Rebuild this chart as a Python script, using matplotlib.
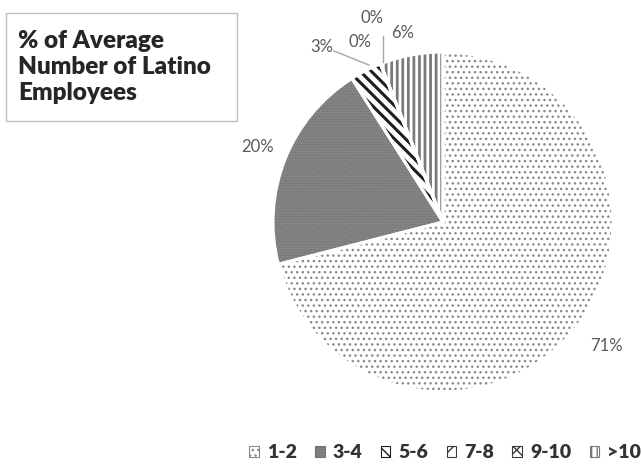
import matplotlib.pyplot as plt
from matplotlib.patches import Wedge, Rectangle, Patch

plt.rcParams['font.family'] = ['Lato', 'DejaVu Sans']

groups = ['1-2', '3-4', '5-6', '7-8', '9-10', '>10']
shares = [71, 20, 3, 0, 0, 6]

fills = ['white', '#858585', 'white', 'white', 'white', 'white']
hatch_colors = ['#8a8a8a', '#727272', '#1e1e1e', '#3a3a3a', '#3a3a3a', '#7a7a7a']
hatches = ['...', '......', '\\\\\\', '//', 'xx', '|||']
hatch_widths = [1.0, 0.7, 2.2, 2.0, 1.5, 2.0]

W, H = 642, 466
fig = plt.figure(figsize=(W / 100, H / 100), dpi=100)
ax = fig.add_axes([0, 0, 1, 1])


def hatched(patch_cls, *args, hlw=1.0, **kw):
    with plt.rc_context({'hatch.linewidth': hlw}):
        p = patch_cls(*args, **kw)
    if hasattr(p, 'set_hatch_linewidth'):
        p.set_hatch_linewidth(hlw)
    return p


cx, cy, r = 443, H - 222, 170
wedges, _ = ax.pie(shares, startangle=90, counterclock=False,
                   center=(cx, cy), radius=r, colors=fills,
                   wedgeprops=dict(linewidth=0))

# hatch layer on top of the fills, then white separators
for w, hc, h, hw in zip(wedges, hatch_colors, hatches, hatch_widths):
    ax.add_patch(hatched(Wedge, w.center, w.r, w.theta1, w.theta2, hlw=hw,
                         facecolor='none', edgecolor=hc, linewidth=0,
                         hatch=h, zorder=2))
    ax.add_patch(Wedge(w.center, w.r, w.theta1, w.theta2, facecolor='none',
                       edgecolor='white', linewidth=2.2, zorder=3))

# percentage labels
lab_pos = [(606, 346), (257, 147), (322, 47), (360, 42), (372, 18), (403, 33)]
for v, (x, y) in zip(shares, lab_pos):
    ax.text(x, H - y, f'{v:.0f}%', ha='center', va='center',
            fontsize=12, color='#595959')

# leader lines for the thin slices
ax.plot([334, 369], [H - 51, H - 65], color='#a6a6a6', lw=1, zorder=4)
ax.plot([383, 383], [H - 36, H - 62], color='#a6a6a6', lw=1, zorder=4)

ax.set_xlim(0, W)
ax.set_ylim(0, H)
ax.set_aspect('auto')
ax.axis('off')

# title box
ax.add_patch(Rectangle((6, H - 121), 231, 108, facecolor='white',
                       edgecolor='#bfbfbf', linewidth=1))
ax.text(18, H - 67, '% of Average\nNumber of Latino\nEmployees',
        ha='left', va='center', fontsize=17.5, fontweight='heavy',
        color='#262626', linespacing=1.2)

handles = [hatched(Patch, hlw=hw, facecolor=f, edgecolor=hc, hatch=h,
                   linewidth=0.8)
           for f, hc, h, hw in zip(fills, hatch_colors, hatches, hatch_widths)]
leg = fig.legend(handles, groups, loc='center', bbox_to_anchor=(445 / W, 13 / H),
                 ncol=6, frameon=False, handlelength=0.5, handleheight=0.5,
                 handletextpad=0.4, columnspacing=0.95,
                 prop=dict(size=14, weight='heavy'))
for t in leg.get_texts():
    t.set_color('#333333')

fig.savefig('out.png', dpi=100)
